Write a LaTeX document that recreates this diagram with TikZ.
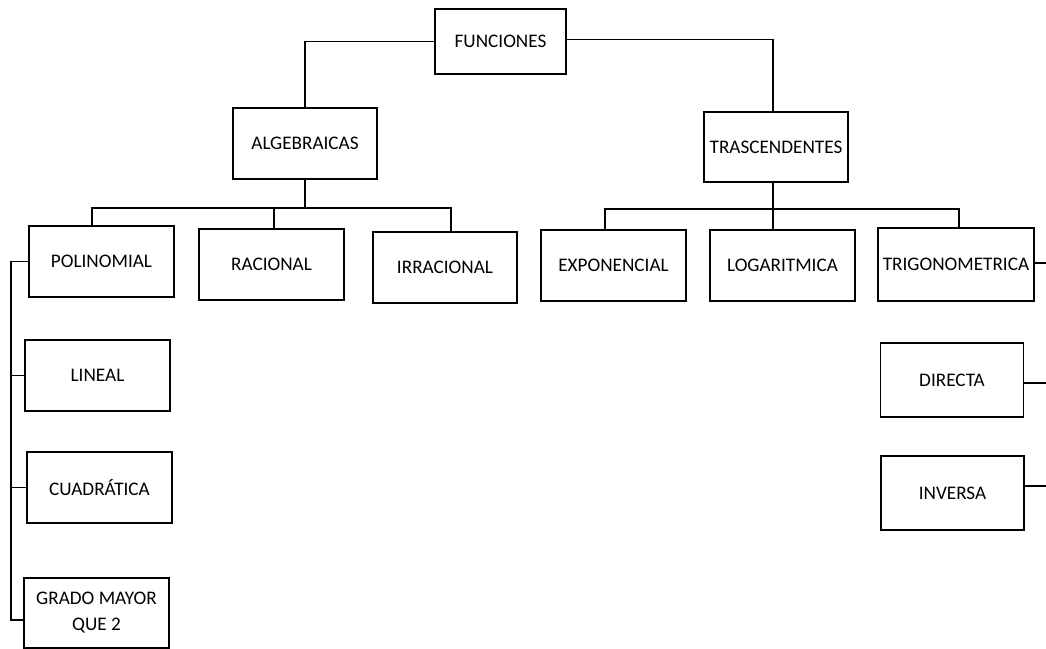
\documentclass[tikz,border=0pt]{standalone}
\usepackage{fontspec}
\setmainfont{Carlito}
\usepackage{tikz}
\usetikzlibrary{calc}

\tikzset{
	caja/.style={draw, line width=0.75pt, inner sep=0pt, outer sep=0pt, minimum width=72.5pt, minimum height=35.5pt, align=center, font=\fontsize{9.6}{13}\selectfont},
	linea/.style={line width=0.75pt}
}

\begin{document}
\begin{tikzpicture}[x=0.5pt, y=-0.5pt]
	
	\useasboundingbox (0,0) rectangle (1046,649);
	
	\node[caja, minimum width=65.5pt, minimum height=32.5pt] (fun) at (500.5,41.5) {FUNCIONES};
	\node[caja, minimum width=72pt] (alg) at (305,143.5) {ALGEBRAICAS};
	\node[caja, minimum width=72pt, minimum height=35pt] (tra) at (776,147) {TRASCENDENTES};
	
	\node[caja] (pol) at (101.5,261.5) {POLINOMIAL};
	\node[caja] (rac) at (271.5,264.5) {RACIONAL};
	\node[caja, minimum width=72pt] (irr) at (445,267.5) {IRRACIONAL};
	\node[caja] (exp) at (613.5,265.5) {EXPONENCIAL};
	\node[caja] (log) at (782.5,265.5) {LOGARITMICA};
	\node[caja, minimum width=78pt, minimum height=36.5pt] (tri) at (956,264.5) {TRIGONOMETRICA};
	
	\node[caja] (lin) at (97.5,375.5) {LINEAL};
	\node[caja] (cua) at (99.5,487.5) {CUADRÁTICA};
	\node[caja, minimum height=35pt] (gra) at (96.5,613) {GRADO MAYOR\\QUE 2};
	
	\node[caja, minimum width=71.5pt, minimum height=37pt] (dir) at (952,380) {DIRECTA};
	\node[caja, minimum width=71.5pt, minimum height=37pt] (inv) at (952.5,493) {INVERSA};
	
	\coordinate (ba) at (305,208);
	\coordinate (bt) at (773,209);
	\coordinate (izq) at (11,0);
	\coordinate (der) at (1046,0);
	\coordinate (gw) at ([yshift=-3.5pt]gra.west);
	
	\draw[linea] (fun.west) -| (alg.north);
	\draw[linea] ([yshift=1pt]fun.east) -| ([xshift=-1.5pt]tra.north);
	
	\draw[linea] (alg.south) -- (ba);
	\draw[linea] ([xshift=-4.75pt]pol.north) |- (ba) -| ([xshift=3pt]irr.north);
	\draw[linea] ([xshift=1.25pt]rac.north) -- ([xshift=1.25pt]rac.north |- ba);
	
	\draw[linea] ([xshift=-1.5pt]tra.south) -- ([xshift=-1.5pt]tra.south |- log.north);
	\draw[linea] ([xshift=-4.25pt]exp.north) |- (bt) -| ([xshift=1.5pt]tri.north);
	
	\draw[linea] (pol.west) -- (pol.west -| izq) -- (izq |- gw) -- (gw);
	\draw[linea] (lin.west) -- (lin.west -| izq);
	\draw[linea] (cua.west) -- (cua.west -| izq);
	
	\draw[linea] ([yshift=0.75pt]tri.east) -- ([yshift=0.75pt]tri.east -| der);
	\draw[linea] ([yshift=-1.5pt]dir.east) -- ([yshift=-1.5pt]dir.east -| der);
	\draw[linea] ([yshift=3.5pt]inv.east) -- ([yshift=3.5pt]inv.east -| der);
	
\end{tikzpicture}
\end{document}
